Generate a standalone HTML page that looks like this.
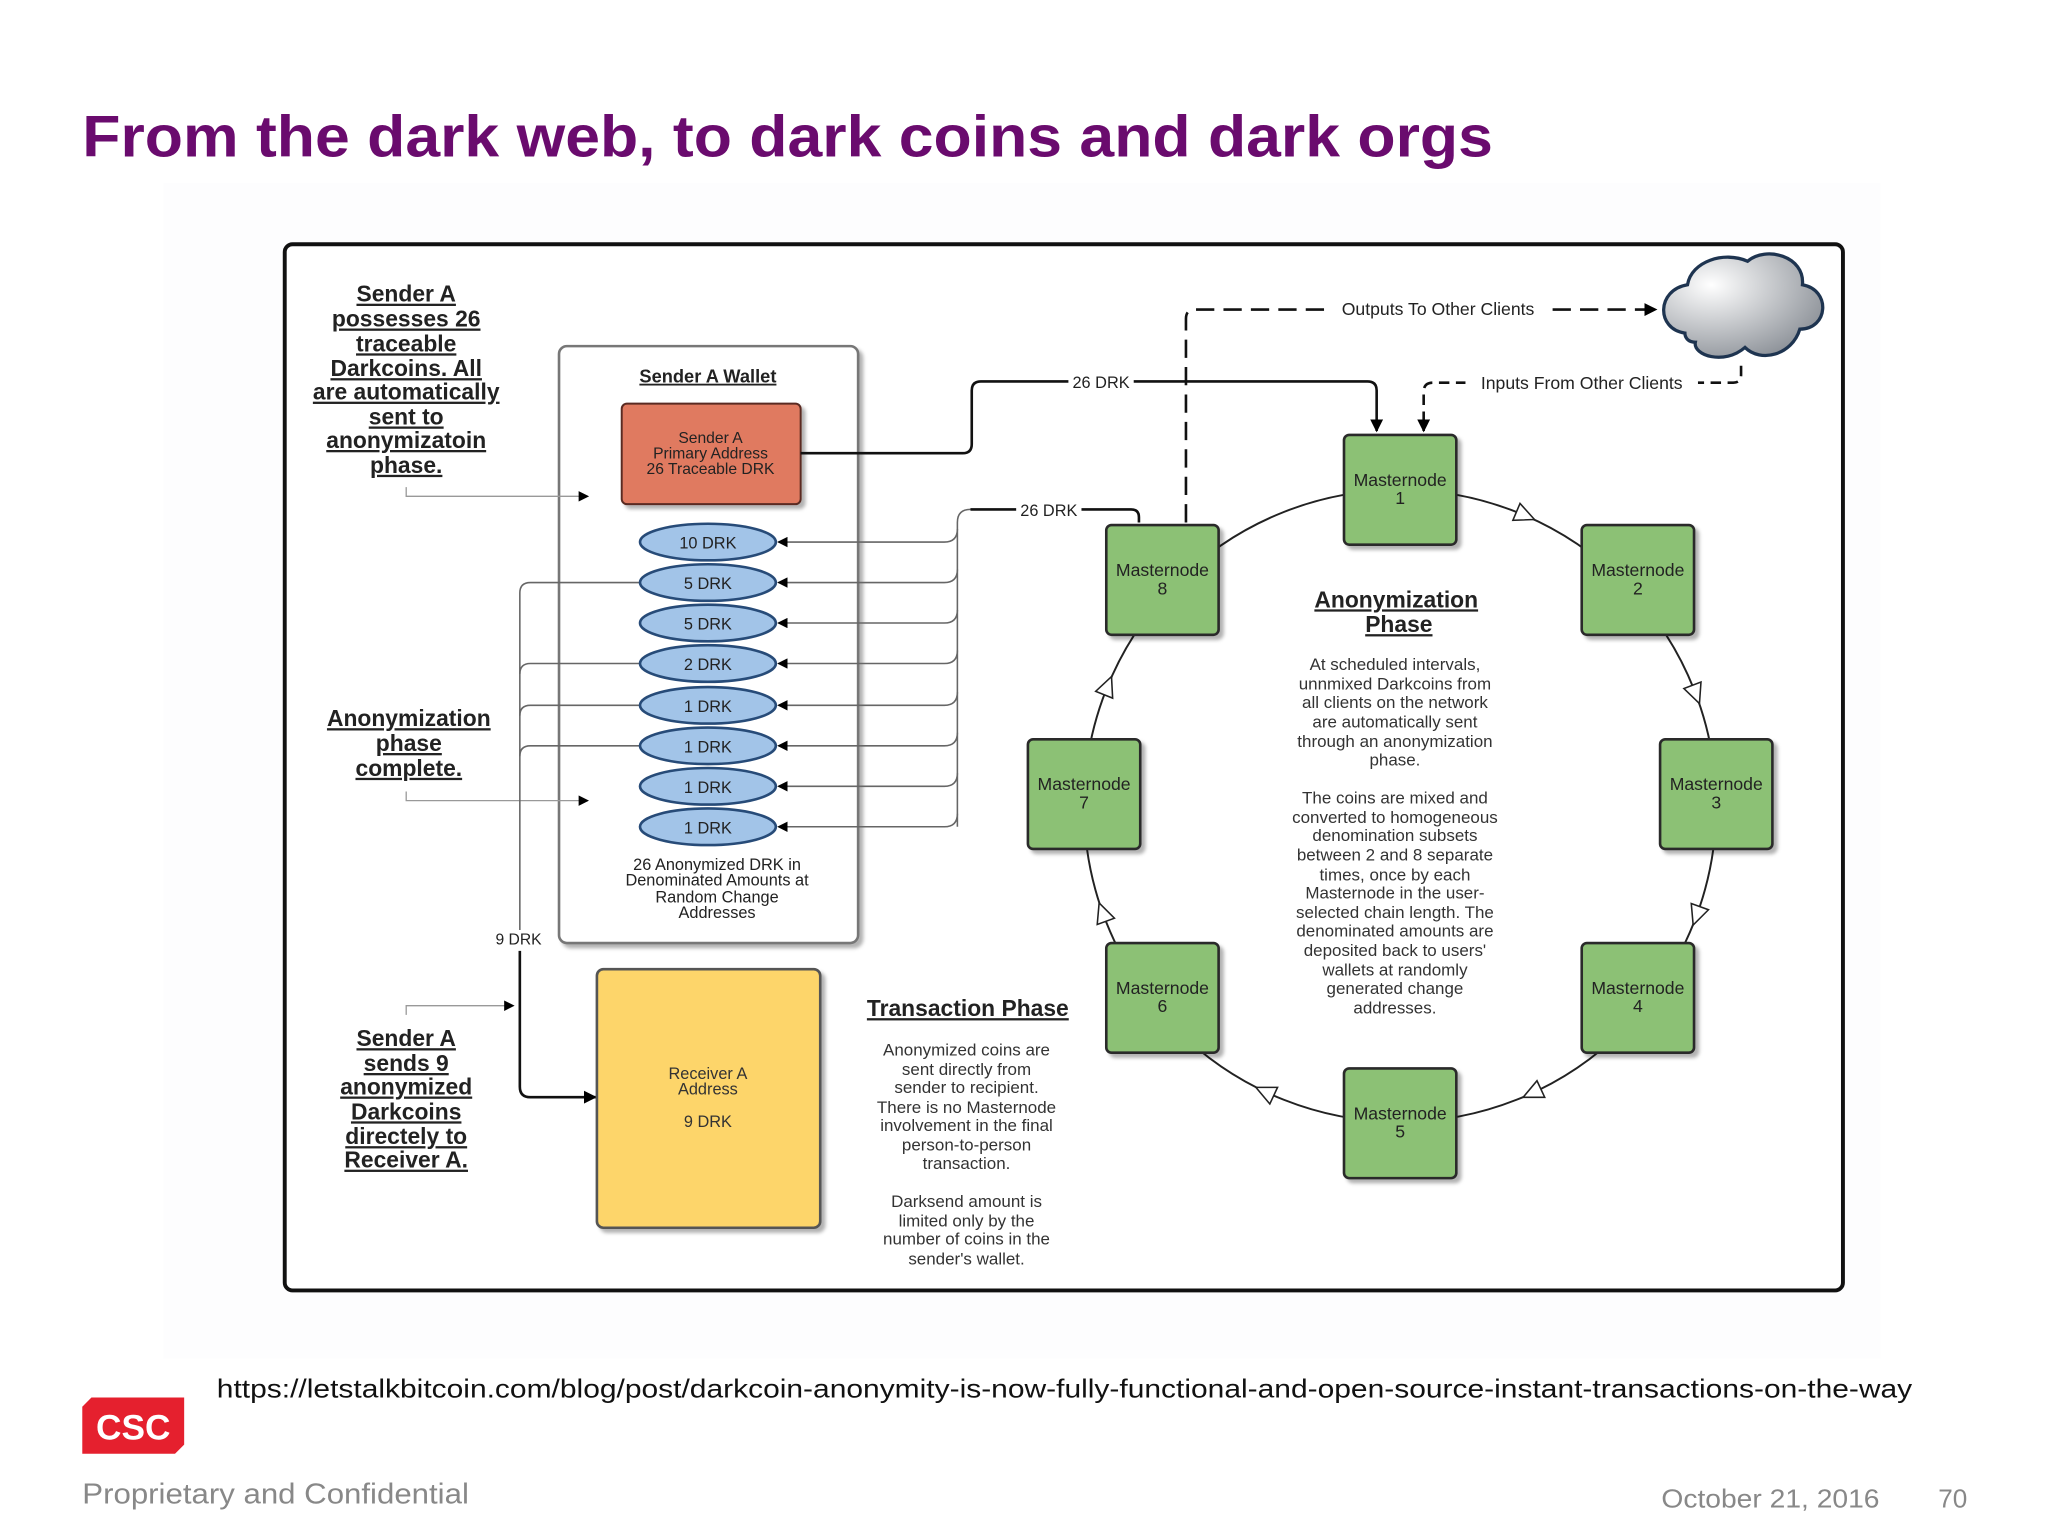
<!DOCTYPE html>
<html><head><meta charset="utf-8"><style>
html,body{margin:0;padding:0;background:#fff;}
svg{display:block;}
text{font-family:"Liberation Sans",sans-serif;}
</style></head><body>
<svg width="2048" height="1536" viewBox="0 0 1568 1176" xmlns="http://www.w3.org/2000/svg">
<defs>
<marker id="af" markerWidth="10" markerHeight="10" refX="9" refY="5" orient="auto" markerUnits="userSpaceOnUse"><path d="M0,0 L10,5 L0,10 z" fill="#000"/></marker>
<marker id="as" markerWidth="8" markerHeight="8" refX="7" refY="4" orient="auto" markerUnits="userSpaceOnUse"><path d="M0,0 L8,4 L0,8 z" fill="#000"/></marker>
<radialGradient id="cg" cx="0.3" cy="0.3" r="0.8"><stop offset="0" stop-color="#ffffff"/><stop offset="1" stop-color="#8a8f96"/></radialGradient>
<filter id="sh"><feDropShadow dx="3" dy="3" stdDeviation="1.5" flood-color="#000" flood-opacity="0.3"/></filter>
</defs>
<rect x="125" y="140" width="1315" height="900" fill="#fdfdfe"/>
<text x="63" y="120" font-size="45" font-weight="bold" fill="#6a0b6e" textLength="1080" lengthAdjust="spacingAndGlyphs">From the dark web, to dark coins and dark orgs</text>
<rect x="218" y="187" width="1193" height="801" rx="6" fill="#fff" stroke="#111" stroke-width="3"/>

<!-- left texts -->
<g font-size="17.5" font-weight="bold" fill="#222" text-anchor="middle" text-decoration="underline">
<text x="311" y="231">Sender A</text><text x="311" y="250">possesses 26</text><text x="311" y="269">traceable</text><text x="311" y="288">Darkcoins.  All</text><text x="311" y="306">are automatically</text><text x="311" y="325">sent to</text><text x="311" y="343">anonymizatoin</text><text x="311" y="362">phase.</text>
<text x="313" y="556">Anonymization</text><text x="313" y="575">phase</text><text x="313" y="594">complete.</text>
<text x="311" y="801">Sender A</text><text x="311" y="820">sends 9</text><text x="311" y="838">anonymized</text><text x="311" y="857">Darkcoins</text><text x="311" y="876">directely to</text><text x="311" y="894">Receiver A.</text>
</g>

<!-- wallet -->
<rect x="428" y="265" width="229" height="457" rx="6" fill="#fff" stroke="#777" stroke-width="2" filter="url(#sh)"/>
<g stroke="#999" stroke-width="1" fill="none">
<path d="M311,373 V380 H450" marker-end="url(#as)"/>
<path d="M311,606 V613 H450" marker-end="url(#as)"/>
<path d="M311,777 V770 H393" marker-end="url(#as)"/>
</g>
<text x="542" y="293" font-size="14" font-weight="bold" text-anchor="middle" text-decoration="underline" fill="#222">Sender A Wallet</text>
<rect x="476" y="309" width="137" height="77" rx="4" fill="#e07a60" stroke="#5a2a20" stroke-width="1.5" filter="url(#sh)"/>
<g font-size="12" text-anchor="middle" fill="#222"><text x="544" y="339">Sender A</text><text x="544" y="351">Primary Address</text><text x="544" y="363">26 Traceable DRK</text></g>

<!-- lines to ellipses -->
<g stroke="#666" stroke-width="1.2" fill="none">
<path d="M733,633 V400 Q733,390 743,390"/>
<path d="M733,405 Q733,415 723,415 H596" marker-end="url(#as)"/>
<path d="M733,436 Q733,446 723,446 H596" marker-end="url(#as)"/>
<path d="M733,467 Q733,477 723,477 H596" marker-end="url(#as)"/>
<path d="M733,498 Q733,508 723,508 H596" marker-end="url(#as)"/>
<path d="M733,530 Q733,540 723,540 H596" marker-end="url(#as)"/>
<path d="M733,561 Q733,571 723,571 H596" marker-end="url(#as)"/>
<path d="M733,592 Q733,602 723,602 H596" marker-end="url(#as)"/>
<path d="M733,623 Q733,633 723,633 H596" marker-end="url(#as)"/>
<path d="M490,446 H406 Q398,446 398,454 V712"/>
<path d="M490,508 H406 Q398,508 398,516"/>
<path d="M490,540 H406 Q398,540 398,548"/>
<path d="M490,571 H406 Q398,571 398,579"/>
</g>
<path d="M398,728 V832 Q398,840 406,840 H456" stroke="#111" stroke-width="2" fill="none" marker-end="url(#af)"/>
<text x="397" y="723" font-size="12" text-anchor="middle" fill="#222">9 DRK</text>
<g fill="#a2c4e8" stroke="#274b78" stroke-width="2">
<ellipse cx="542" cy="415" rx="52" ry="14"/><ellipse cx="542" cy="446" rx="52" ry="14"/><ellipse cx="542" cy="477" rx="52" ry="14"/><ellipse cx="542" cy="508" rx="52" ry="14"/><ellipse cx="542" cy="540" rx="52" ry="14"/><ellipse cx="542" cy="571" rx="52" ry="14"/><ellipse cx="542" cy="602" rx="52" ry="14"/><ellipse cx="542" cy="633" rx="52" ry="14"/>
</g>
<g font-size="12.5" text-anchor="middle" fill="#222">
<text x="542" y="420">10 DRK</text><text x="542" y="451">5 DRK</text><text x="542" y="482">5 DRK</text><text x="542" y="513">2 DRK</text><text x="542" y="545">1 DRK</text><text x="542" y="576">1 DRK</text><text x="542" y="607">1 DRK</text><text x="542" y="638">1 DRK</text>
<text x="549" y="666">26 Anonymized DRK in</text><text x="549" y="678">Denominated Amounts at</text><text x="549" y="691">Random Change</text><text x="549" y="703">Addresses</text>
</g>

<!-- receiver -->
<rect x="457" y="742" width="171" height="198" rx="5" fill="#fdd56a" stroke="#555" stroke-width="2" filter="url(#sh)"/>
<g font-size="12.5" text-anchor="middle" fill="#333"><text x="542" y="826">Receiver A</text><text x="542" y="838">Address</text><text x="542" y="863">9 DRK</text></g>

<!-- transaction phase -->
<text x="741" y="778" font-size="17.5" font-weight="bold" text-anchor="middle" text-decoration="underline" fill="#222">Transaction Phase</text>
<g font-size="13" text-anchor="middle" fill="#333">
<text x="740" y="808">Anonymized coins are</text><text x="740" y="823">sent directly from</text><text x="740" y="837">sender to recipient.</text><text x="740" y="852">There is no Masternode</text><text x="740" y="866">involvement in the final</text><text x="740" y="881">person-to-person</text><text x="740" y="895">transaction.</text>
<text x="740" y="924">Darksend amount is</text><text x="740" y="939">limited only by the</text><text x="740" y="953">number of coins in the</text><text x="740" y="968">sender's wallet.</text>
</g>

<!-- 26 DRK lines -->
<path d="M613,347 H737 Q744,347 744,340 V299 Q744,292 751,292 H1047 Q1054,292 1054,299 V330" stroke="#111" stroke-width="2" fill="none" marker-end="url(#af)"/>
<rect x="818" y="285" width="50" height="14" fill="#fff"/>
<text x="843" y="297" font-size="12.5" text-anchor="middle" fill="#222">26 DRK</text>
<path d="M872,400 V396 Q872,390 866,390 H743" stroke="#111" stroke-width="2" fill="none"/>
<rect x="778" y="383" width="50" height="14" fill="#fff"/>
<text x="803" y="395" font-size="12.5" text-anchor="middle" fill="#222">26 DRK</text>

<!-- dashed -->
<path d="M908,400 V244 Q908,237 915,237 H1268" stroke="#111" stroke-width="2" stroke-dasharray="14,7" fill="none" marker-end="url(#af)"/>
<rect x="1016" y="228" width="170" height="18" fill="#fff"/>
<text x="1101" y="241" font-size="13.5" text-anchor="middle" fill="#222">Outputs To Other Clients</text>
<path d="M1333,280 V287 Q1333,293 1327,293 H1097 Q1090,293 1090,300 V330" stroke="#111" stroke-width="2" stroke-dasharray="8,5" fill="none" marker-end="url(#af)"/>
<rect x="1122" y="285" width="178" height="16" fill="#fff"/>
<text x="1211" y="298" font-size="13.5" text-anchor="middle" fill="#222">Inputs From Other Clients</text>

<!-- cloud -->
<path d="M1290,255 C1268,252 1268,222 1292,218 C1295,200 1320,192 1338,200 C1352,188 1382,196 1380,218 C1402,222 1400,252 1378,252 C1372,272 1348,278 1336,266 C1320,280 1296,272 1298,262 C1292,262 1290,258 1290,255 Z" fill="url(#cg)" stroke="#1e3450" stroke-width="2.5"/>

<!-- ring -->
<circle cx="1072" cy="617" r="242" fill="none" stroke="#222" stroke-width="1.5"/>
<g fill="#fff" stroke="#222" stroke-width="1.2">
<polygon points="1314,626 1307,611 1321,611" transform="rotate(-67 1072 617)"/>
<polygon points="1314,626 1307,611 1321,611" transform="rotate(-21 1072 617)"/>
<polygon points="1314,626 1307,611 1321,611" transform="rotate(20 1072 617)"/>
<polygon points="1314,626 1307,611 1321,611" transform="rotate(65 1072 617)"/>
<polygon points="1314,626 1307,611 1321,611" transform="rotate(115 1072 617)"/>
<polygon points="1314,626 1307,611 1321,611" transform="rotate(160 1072 617)"/>
<polygon points="1314,626 1307,611 1321,611" transform="rotate(202 1072 617)"/>
</g>
<g fill="#8cc174" stroke="#2a2a2a" stroke-width="2" filter="url(#sh)">
<rect x="1029" y="333" width="86" height="84" rx="4"/>
<rect x="1211" y="402" width="86" height="84" rx="4"/>
<rect x="1271" y="566" width="86" height="84" rx="4"/>
<rect x="1211" y="722" width="86" height="84" rx="4"/>
<rect x="1029" y="818" width="86" height="84" rx="4"/>
<rect x="847" y="722" width="86" height="84" rx="4"/>
<rect x="787" y="566" width="86" height="84" rx="4"/>
<rect x="847" y="402" width="86" height="84" rx="4"/>
</g>
<g font-size="13.5" text-anchor="middle" fill="#222">
<text x="1072" y="372">Masternode</text><text x="1072" y="386">1</text>
<text x="1254" y="441">Masternode</text><text x="1254" y="455">2</text>
<text x="1314" y="605">Masternode</text><text x="1314" y="619">3</text>
<text x="1254" y="761">Masternode</text><text x="1254" y="775">4</text>
<text x="1072" y="857">Masternode</text><text x="1072" y="871">5</text>
<text x="890" y="761">Masternode</text><text x="890" y="775">6</text>
<text x="830" y="605">Masternode</text><text x="830" y="619">7</text>
<text x="890" y="441">Masternode</text><text x="890" y="455">8</text>
</g>
<g font-size="17.5" font-weight="bold" text-anchor="middle" text-decoration="underline" fill="#222"><text x="1069" y="465">Anonymization</text><text x="1071" y="484">Phase</text></g>
<g font-size="13" text-anchor="middle" fill="#333">
<text x="1068" y="513">At scheduled intervals,</text><text x="1068" y="528">unnmixed Darkcoins from</text><text x="1068" y="542">all clients on the network</text><text x="1068" y="557">are automatically sent</text><text x="1068" y="572">through an anonymization</text><text x="1068" y="586">phase.</text>
<text x="1068" y="615">The coins are mixed and</text><text x="1068" y="630">converted to homogeneous</text><text x="1068" y="644">denomination subsets</text><text x="1068" y="659">between 2 and 8 separate</text><text x="1068" y="674">times, once by each</text><text x="1068" y="688">Masternode in the user-</text><text x="1068" y="703">selected chain length.  The</text><text x="1068" y="717">denominated amounts are</text><text x="1068" y="732">deposited back to users'</text><text x="1068" y="747">wallets at randomly</text><text x="1068" y="761">generated change</text><text x="1068" y="776">addresses.</text>
</g>

<!-- footer -->
<text x="166" y="1070" font-size="20" fill="#111" textLength="1298" lengthAdjust="spacingAndGlyphs">https://letstalkbitcoin.com/blog/post/darkcoin-anonymity-is-now-fully-functional-and-open-source-instant-transactions-on-the-way</text>
<path d="M70,1070 H141 V1106 L134,1113 H63 V1077 Z" fill="#e5202e"/>
<text x="102" y="1102" font-size="27" font-weight="bold" fill="#fff" text-anchor="middle">CSC</text>
<text x="63" y="1151" font-size="22" fill="#888" textLength="296" lengthAdjust="spacingAndGlyphs">Proprietary and Confidential</text>
<text x="1272" y="1154" font-size="20" fill="#888" textLength="167" lengthAdjust="spacingAndGlyphs">October 21, 2016</text>
<text x="1484" y="1154" font-size="20" fill="#888">70</text>
</svg>
</body></html>
